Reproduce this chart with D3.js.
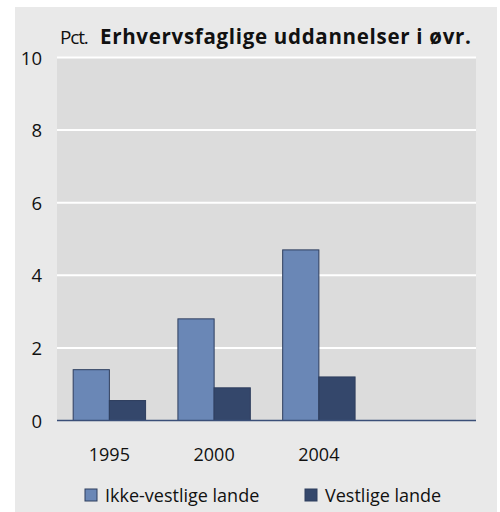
<!DOCTYPE html>
<html lang="da">
<head>
<meta charset="utf-8">
<title>Erhvervsfaglige uddannelser i øvr.</title>
<script src="https://cdn.jsdelivr.net/npm/d3@7"></script>
<style>
  body { margin: 0; background: #fff; }
  text { font-family: "Open Sans", sans-serif; fill: #111; }
</style>
</head>
<body>
<script>
// data
var years = ["1995", "2000", "2004", ""];
var ikkeVestlige = [1.4, 2.8, 4.7, null];
var vestlige = [0.55, 0.9, 1.2, null];
var seriesNames = ["Ikke-vestlige lande", "Vestlige lande"];
var yTicks = [0, 2, 4, 6, 8, 10];

var w = 500, h = 512;
var plotLeft = 57, plotRight = 476, plotTop = 57.5, plotBottom = 420.5;
var colors = ["#6a87b6", "#34476b"];

var svg = d3.select("body").append("svg")
    .attr("width", w)
    .attr("height", h);

// outer panel
svg.append("rect")
    .attr("x", 15).attr("y", 7)
    .attr("width", 482).attr("height", 505)
    .attr("fill", "#e9e9e9");

// plot area
svg.append("rect")
    .attr("x", plotLeft).attr("y", plotTop)
    .attr("width", plotRight - plotLeft).attr("height", plotBottom - plotTop)
    .attr("fill", "#dcdcdc");

var x = d3.scaleBand().domain(years.map(function (d, i) { return i; }))
    .range([plotLeft, plotRight]);
var groupW = 72.4;
var x1 = d3.scaleBand().domain([0, 1]).range([0, groupW]);
var y = d3.scaleLinear().domain([0, 10]).range([plotBottom, plotTop]);

// gridlines
svg.append("g").selectAll("line")
    .data(yTicks.filter(function (d) { return d > 0; }))
    .enter().append("line")
    .attr("x1", plotLeft).attr("x2", plotRight)
    .attr("y1", function (d) { return y(d); })
    .attr("y2", function (d) { return y(d); })
    .attr("stroke", "#fff").attr("stroke-width", 2);

// y tick labels
svg.append("g").selectAll("text")
    .data(yTicks)
    .enter().append("text")
    .attr("x", 42)
    .attr("y", function (d) { return y(d) + 7; })
    .attr("text-anchor", "end")
    .attr("font-size", 18.5)
    .text(function (d) { return d; });

// bars
var series = [ikkeVestlige, vestlige];
series.forEach(function (vals, s) {
    svg.append("g").selectAll("rect")
        .data(vals.map(function (v, i) { return {i: i, v: v}; }).filter(function (d) { return d.v != null; }))
        .enter().append("rect")
        .attr("x", function (d) { return x(d.i) + (x.bandwidth() - groupW) / 2 + x1(s); })
        .attr("y", function (d) { return y(d.v); })
        .attr("width", x1.bandwidth())
        .attr("height", function (d) { return plotBottom - y(d.v); })
        .attr("fill", colors[s])
        .attr("stroke", "#2e3e5e")
        .attr("stroke-width", 1);
});

// zero axis
svg.append("line")
    .attr("x1", plotLeft).attr("x2", plotRight)
    .attr("y1", plotBottom).attr("y2", plotBottom)
    .attr("stroke", "#3b4f78").attr("stroke-width", 1.5);

// x labels
svg.append("g").selectAll("text")
    .data(years)
    .enter().append("text")
    .attr("x", function (d, i) { return x(i) + x.bandwidth() / 2; })
    .attr("y", 461)
    .attr("text-anchor", "middle")
    .attr("font-size", 18)
    .text(function (d) { return d; });

// title
svg.append("text")
    .attr("x", 60).attr("y", 44)
    .attr("font-size", 19)
    .attr("letter-spacing", -1.2)
    .text("Pct.");
svg.append("text")
    .attr("x", 100).attr("y", 44)
    .attr("font-size", 20.5)
    .attr("font-weight", "bold")
    .attr("letter-spacing", 0.7)
    .text("Erhvervsfaglige uddannelser i øvr.");

// legend
var legX = [85, 305];
seriesNames.forEach(function (name, s) {
    svg.append("rect")
        .attr("x", legX[s]).attr("y", 489)
        .attr("width", 12).attr("height", 12)
        .attr("fill", colors[s])
        .attr("stroke", "#2e3e5e").attr("stroke-width", 1);
    svg.append("text")
        .attr("x", legX[s] + 20).attr("y", 502)
        .attr("font-size", 18)
        .text(name);
});
</script>
</body>
</html>
